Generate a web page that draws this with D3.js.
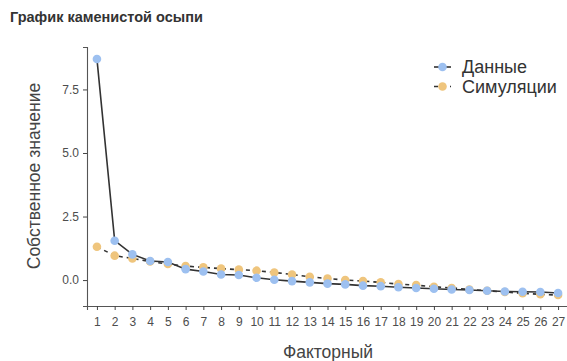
<!DOCTYPE html>
<html><head><meta charset="utf-8">
<script src="https://cdn.jsdelivr.net/npm/d3@7"></script>
<style>body{margin:0;background:#fff}svg{display:block}text{font-family:Arial,"Liberation Sans",sans-serif}</style>
</head><body><svg id="c" width="567" height="361"></svg>
<script>
const factors = d3.range(1, 28);
const dataValues = [8.7,1.55,1.01,0.75,0.71,0.43,0.34,0.22,0.20,0.09,0.01,-0.04,-0.09,-0.14,-0.17,-0.22,-0.24,-0.28,-0.31,-0.34,-0.37,-0.39,-0.42,-0.45,-0.46,-0.47,-0.51];
const simValues = [1.31,0.96,0.85,0.73,0.63,0.55,0.50,0.45,0.41,0.37,0.30,0.22,0.13,0.06,0.00,-0.04,-0.09,-0.16,-0.20,-0.26,-0.31,-0.37,-0.42,-0.47,-0.52,-0.56,-0.59];
const yTicks = [0, 2.5, 5, 7.5];
const seriesNames = ["Данные", "Симуляции"];
const colors = ["#9dc0f0", "#efc57d"];

const svg = d3.select("#c");
const x = d3.scaleLinear().domain([0.44, 27.56]).range([87, 568]);
const y = d3.scaleLinear().domain([-1.02, 9.17]).range([306, 47]);

svg.append("text").attr("x", 10).attr("y", 22).attr("font-size", 14.5).attr("font-weight", "bold").attr("fill", "#333").text("График каменистой осыпи");

// axes
const gx = svg.append("g").attr("transform", "translate(0,306)")
  .call(d3.axisBottom(x).tickValues(factors).tickFormat(d3.format("d")).tickSize(4).tickPadding(7));
const gy = svg.append("g").attr("transform", "translate(87,0)")
  .call(d3.axisLeft(y).tickValues(yTicks).tickFormat(d3.format(".1f")).tickSize(4).tickPadding(4));
[gx, gy].forEach(g => {
  g.select(".domain").attr("stroke", "#555").attr("stroke-width", 1.1);
  g.selectAll(".tick line").attr("stroke", "#444");
  g.selectAll(".tick text").attr("fill", "#4d4d4d").attr("font-size", 12).attr("font-family", "Arial,'Liberation Sans',sans-serif");
});

svg.append("text").attr("x", 328).attr("y", 358).attr("text-anchor", "middle").attr("font-size", 17.5).attr("fill", "#444").text("Факторный");
svg.append("text").attr("transform", "translate(40,176) rotate(-90)").attr("text-anchor", "middle").attr("font-size", 17.5).attr("fill", "#444").text("Собственное значение");

const line = d3.line().x((d, i) => x(factors[i])).y(d => y(d));
svg.append("path").datum(simValues).attr("d", line).attr("fill", "none").attr("stroke", "#333").attr("stroke-width", 1.6).attr("stroke-dasharray", "4,4");
svg.append("g").selectAll("circle").data(simValues).join("circle")
  .attr("cx", (d, i) => x(factors[i])).attr("cy", d => y(d)).attr("r", 4.3).attr("fill", colors[1]);
svg.append("path").datum(dataValues).attr("d", line).attr("fill", "none").attr("stroke", "#333").attr("stroke-width", 1.6);
svg.append("g").selectAll("circle").data(dataValues).join("circle")
  .attr("cx", (d, i) => x(factors[i])).attr("cy", d => y(d)).attr("r", 4.3).attr("fill", colors[0]);

// legend
const lg = svg.append("g");
seriesNames.forEach((n, i) => {
  const yy = 67 + i * 19.5;
  lg.append("line").attr("x1", 434).attr("x2", 451).attr("y1", yy).attr("y2", yy).attr("stroke", "#333").attr("stroke-width", 1.6).attr("stroke-dasharray", i ? "4,4" : null);
  lg.append("circle").attr("cx", 442.5).attr("cy", yy).attr("r", 4.3).attr("fill", colors[i]);
  lg.append("text").attr("x", 462).attr("y", yy + 6).attr("font-size", 18).attr("fill", "#333").text(n);
});
</script></body></html>
